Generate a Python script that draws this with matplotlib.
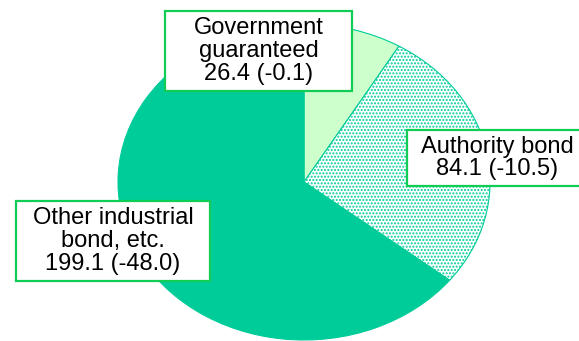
import matplotlib
matplotlib.use("Agg")
import matplotlib.pyplot as plt
from matplotlib.patches import Rectangle

categories = ["Government\nguaranteed", "Authority bond", "Other industrial\nbond, etc."]
values = [26.4, 84.1, 199.1]
changes = [-0.1, -10.5, -48.0]

W, H = 579, 341
plt.rcParams['font.family'] = ['Liberation Sans', 'DejaVu Sans']
plt.rcParams['hatch.linewidth'] = 1.0

fig = plt.figure(figsize=(W / 100, H / 100), dpi=100)
# pie centre (304,182) px from top, rx=186, ry=158
cx, cy, rx, ry = 304, 182, 186, 158
ax = fig.add_axes([(cx - rx) / W, (H - cy - ry) / H, 2 * rx / W, 2 * ry / H])

dark = '#00cc99'
wedges, _ = ax.pie(values, startangle=90, counterclock=False,
                   colors=['#ccffcc', 'white', dark],
                   wedgeprops=dict(edgecolor=dark, linewidth=0.8))
wedges[1].set_hatch('.....')
ax.set_xlim(-1, 1)
ax.set_ylim(-1, 1)
ax.set_aspect('auto')
ax.axis('off')

box_color = '#11cc55'
# label boxes: (left, top, right, bottom) px, text centre
boxes = [
    ((165, 11, 352, 91), (259, 51)),
    ((407, 130, 600, 186), (497, 158)),
    ((16, 201, 210, 281), (113, 241)),
]
for (label, v, c), ((l, t, r, b), (tx, ty)) in zip(zip(categories, values, changes), boxes):
    rect = Rectangle((l / W, (H - b) / H), (r - l) / W, (b - t) / H,
                     transform=fig.transFigure, facecolor='white',
                     edgecolor=box_color, linewidth=1.6, zorder=5)
    fig.add_artist(rect)
    fig.text(tx / W, (H - ty) / H, f"{label}\n{v:.1f} ({c:.1f})",
             ha='center', va='center', fontsize=17, linespacing=1.05,
             zorder=6)

fig.savefig('out.png', dpi=100)
